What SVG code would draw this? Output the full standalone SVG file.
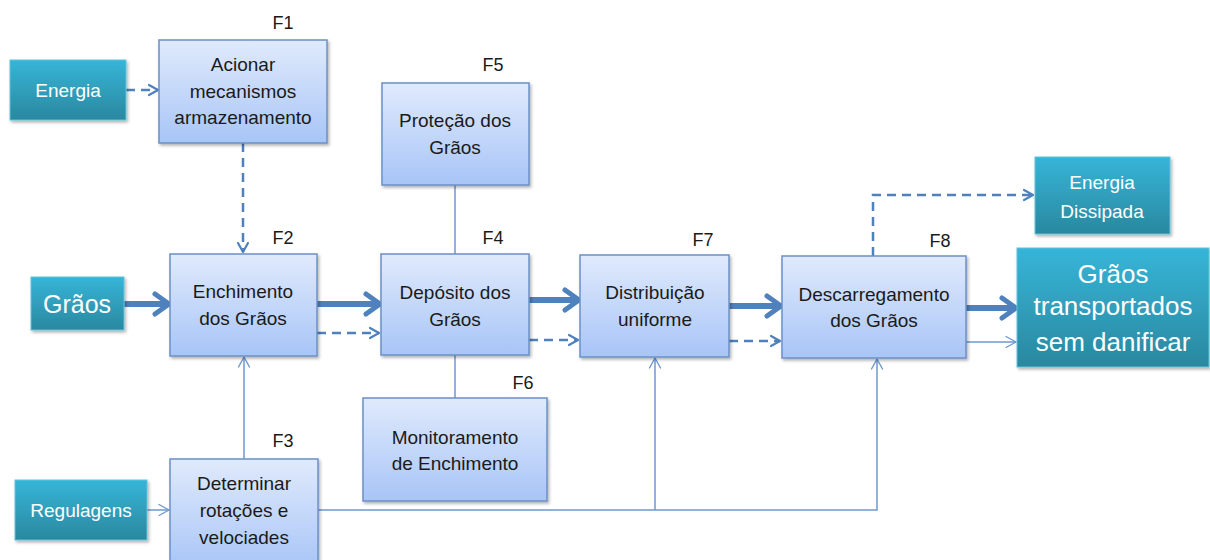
<svg xmlns="http://www.w3.org/2000/svg" width="1210" height="560" viewBox="0 0 1210 560">
<defs>
<linearGradient id="gBlue" x1="0" y1="0" x2="0" y2="1">
<stop offset="0" stop-color="#e0eafc"/>
<stop offset="1" stop-color="#a8c5f7"/>
</linearGradient>
<linearGradient id="gTeal" x1="0" y1="0" x2="0" y2="1">
<stop offset="0" stop-color="#36b5d8"/>
<stop offset="1" stop-color="#2a889f"/>
</linearGradient>
<filter id="sh" x="-10%" y="-10%" width="125%" height="130%">
<feDropShadow dx="1.5" dy="2" stdDeviation="1.5" flood-color="#000" flood-opacity="0.3"/>
</filter>
<marker id="mThick" markerUnits="userSpaceOnUse" markerWidth="22" markerHeight="26" viewBox="0 0 22 26" refX="18" refY="13" orient="auto">
<path d="M4,3 L18,13 L4,23" fill="none" stroke="#4f81bd" stroke-width="5" stroke-linecap="round" stroke-linejoin="round"/>
</marker>
<marker id="mDash" markerUnits="userSpaceOnUse" markerWidth="14" markerHeight="14" viewBox="0 0 14 14" refX="12" refY="7" orient="auto">
<path d="M3,2 L12,7 L3,12" fill="none" stroke="#4f81bd" stroke-width="2.2" stroke-linecap="round" stroke-linejoin="round"/>
</marker>
<marker id="mThin" markerUnits="userSpaceOnUse" markerWidth="14" markerHeight="14" viewBox="0 0 14 14" refX="12" refY="7" orient="auto">
<path d="M2,1.5 L12,7 L2,12.5" fill="none" stroke="#6f98cf" stroke-width="1.4" stroke-linecap="round" stroke-linejoin="round"/>
</marker>
</defs>
<style>
.box{fill:url(#gBlue);stroke:#6b90c6;stroke-width:1.5;filter:url(#sh)}
.tbox{fill:url(#gTeal);stroke:#5fc3dc;stroke-width:1;filter:url(#sh)}
.t{font-family:"Liberation Sans",Arial,sans-serif;font-size:19px;fill:#1a1a1a;text-anchor:middle}
.w{font-family:"Liberation Sans",Arial,sans-serif;font-size:19px;fill:#ffffff;text-anchor:middle}
.wb{font-family:"Liberation Sans",Arial,sans-serif;font-size:25px;fill:#ffffff;text-anchor:middle}
.wl{font-family:"Liberation Sans",Arial,sans-serif;font-size:26px;fill:#ffffff;text-anchor:middle}
.lab{font-family:"Liberation Sans",Arial,sans-serif;font-size:18px;fill:#1a1a1a;text-anchor:middle}
.thick{fill:none;stroke:#4f81bd;stroke-width:6;marker-end:url(#mThick)}
.dash{fill:none;stroke:#4f81bd;stroke-width:2.5;stroke-dasharray:9 6;marker-end:url(#mDash)}
.thin{fill:none;stroke:#6f98cf;stroke-width:1.5}
.thinA{fill:none;stroke:#6f98cf;stroke-width:1.5;marker-end:url(#mThin)}
</style>
<rect width="1210" height="560" fill="#ffffff"/>

<g id="connectors">
<path class="dash" d="M126,90 L158,90"/>
<path class="dash" d="M243,143 L243,252"/>
<path class="thick" d="M124,304 L169,304"/>
<path class="thick" d="M317,304 L380,304"/>
<path class="dash" d="M317,333 L379,333"/>
<path class="thick" d="M529,300 L579,300"/>
<path class="dash" d="M529,340 L578,340"/>
<path class="thick" d="M729,306 L781,306"/>
<path class="dash" d="M729,341 L780,341"/>
<path class="thick" d="M966,308 L1016,308"/>
<path class="thinA" d="M966,342 L1016,342"/>
<path class="dash" d="M873,256 L873,195 L1033,195"/>
<path class="thinA" d="M147,510 L169,510"/>
<path class="thinA" d="M244,459 L244,357"/>
<path class="thinA" d="M318,510 L877,510 L877,359"/>
<path class="thinA" d="M655,510 L655,358"/>
<path class="thin" d="M455,185 L455,254"/>
<path class="thin" d="M455,355 L455,398"/>
</g>

<g id="energia">
<rect class="tbox" x="10" y="60" width="116" height="60"/>
<text class="w" x="68" y="97">Energia</text>
</g>
<g id="graos">
<rect class="tbox" x="31" y="277" width="93" height="53"/>
<text class="wb" x="77" y="313">Grãos</text>
</g>
<g id="regulagens">
<rect class="tbox" x="15" y="480" width="132" height="60"/>
<text class="w" x="81" y="517">Regulagens</text>
</g>
<g id="energia-dissipada">
<rect class="tbox" x="1035" y="157" width="135" height="77"/>
<text class="w" x="1102" y="189">Energia</text>
<text class="w" x="1102" y="218">Dissipada</text>
</g>
<g id="graos-transportados">
<rect class="tbox" x="1017" y="248" width="192" height="119"/>
<text class="wl" x="1113" y="283">Grãos</text>
<text class="wl" x="1113" y="315">transportados</text>
<text class="wl" x="1113" y="351">sem danificar</text>
</g>

<g id="F1">
<rect class="box" x="159" y="40" width="168" height="103"/>
<text class="lab" x="283" y="29">F1</text>
<text class="t" x="243" y="71">Acionar</text>
<text class="t" x="243" y="98">mecanismos</text>
<text class="t" x="243" y="124">armazenamento</text>
</g>
<g id="F2">
<rect class="box" x="170" y="254" width="147" height="102"/>
<text class="lab" x="283" y="244">F2</text>
<text class="t" x="243" y="298">Enchimento</text>
<text class="t" x="243" y="325">dos Grãos</text>
</g>
<g id="F3">
<rect class="box" x="170" y="459" width="148" height="110"/>
<text class="lab" x="283" y="447">F3</text>
<text class="t" x="244" y="490">Determinar</text>
<text class="t" x="244" y="517">rotações e</text>
<text class="t" x="244" y="544">velociades</text>
</g>
<g id="F4">
<rect class="box" x="381" y="254" width="148" height="101"/>
<text class="lab" x="493" y="244">F4</text>
<text class="t" x="455" y="299">Depósito dos</text>
<text class="t" x="455" y="326">Grãos</text>
</g>
<g id="F5">
<rect class="box" x="382" y="83" width="147" height="102"/>
<text class="lab" x="493" y="71">F5</text>
<text class="t" x="455" y="127">Proteção dos</text>
<text class="t" x="455" y="154">Grãos</text>
</g>
<g id="F6">
<rect class="box" x="363" y="398" width="184" height="103"/>
<text class="lab" x="523" y="389">F6</text>
<text class="t" x="455" y="444">Monitoramento</text>
<text class="t" x="455" y="470">de Enchimento</text>
</g>
<g id="F7">
<rect class="box" x="580" y="255" width="149" height="102"/>
<text class="lab" x="703" y="246">F7</text>
<text class="t" x="655" y="299">Distribuição</text>
<text class="t" x="655" y="326">uniforme</text>
</g>
<g id="F8">
<rect class="box" x="782" y="256" width="184" height="102"/>
<text class="lab" x="940" y="247">F8</text>
<text class="t" x="874" y="301">Descarregamento</text>
<text class="t" x="874" y="327">dos Grãos</text>
</g>
</svg>
